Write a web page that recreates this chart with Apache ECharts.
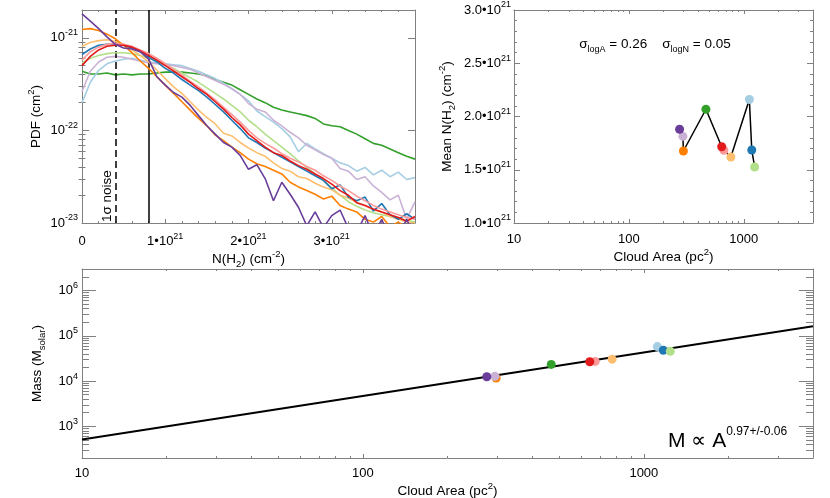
<!DOCTYPE html>
<html>
<head>
<meta charset="utf-8">
<script src="https://cdn.jsdelivr.net/npm/echarts@6/dist/echarts.min.js"></script>
<style>
  html, body { margin: 0; padding: 0; background: #fff; }
  #chart { width: 830px; height: 498px; }
</style>
</head>
<body>
<div id="chart"></div>
<script>
// N(H2) bins, units of 1e21 cm^-2
const nh2 = [0, 0.1, 0.2, 0.3, 0.4, 0.5, 0.6, 0.7, 0.8, 0.9, 1.0, 1.1, 1.2, 1.3, 1.4, 1.5, 1.6, 1.7, 1.8, 1.9, 2.0,
  2.1, 2.2, 2.3, 2.4, 2.5, 2.6, 2.7, 2.8, 2.9, 3.0, 3.1, 3.2, 3.3, 3.4, 3.5, 3.6, 3.7, 3.8, 3.9, 4.0];

// log10 of the column density PDF (cm^2), one array per cloud
const pdfLightBlue = [-21.70, -21.48, -21.35, -21.28, -21.25, -21.23, -21.22, -21.24, -21.26, -21.27, -21.28, -21.29, -21.30, -21.33, -21.36, -21.40, -21.44, -21.49, -21.55, -21.61, -21.68,
  -21.79, -21.85, -21.91, -21.98, -22.07, -22.23, -22.14, -22.20, -22.25, -22.30, -22.35, -22.38, -22.44, -22.40, -22.48, -22.43, -22.50, -22.45, -22.53, -22.51];
const pdfBlue = [-21.18, -21.12, -21.08, -21.07, -21.07, -21.08, -21.11, -21.15, -21.21, -21.26, -21.33, -21.38, -21.45, -21.51, -21.57, -21.64, -21.72, -21.80, -21.89, -21.98, -22.08,
  -22.13, -22.19, -22.24, -22.29, -22.34, -22.39, -22.44, -22.49, -22.54, -22.63, -22.59, -22.72, -22.76, -22.72, -22.87, -22.79, -22.91, -22.96, -22.90, -22.96];
const pdfLightGreen = [-21.27, -21.22, -21.19, -21.17, -21.16, -21.16, -21.17, -21.19, -21.22, -21.25, -21.29, -21.33, -21.38, -21.43, -21.48, -21.54, -21.60, -21.66, -21.73, -21.80, -21.89,
  -21.96, -22.04, -22.11, -22.18, -22.25, -22.33, -22.40, -22.47, -22.54, -22.62, -22.70, -22.77, -22.82, -22.86, -22.89, -22.91, -22.93, -22.95, -22.97, -22.99];
const pdfGreen = [-21.36, -21.39, -21.39, -21.38, -21.40, -21.39, -21.40, -21.39, -21.39, -21.38, -21.37, -21.37, -21.37, -21.38, -21.39, -21.41, -21.45, -21.48, -21.51, -21.56, -21.61,
  -21.66, -21.70, -21.75, -21.78, -21.80, -21.82, -21.84, -21.87, -21.93, -21.95, -21.96, -22.00, -22.04, -22.09, -22.14, -22.16, -22.20, -22.24, -22.28, -22.31];
const pdfPink = [-21.24, -21.15, -21.10, -21.07, -21.06, -21.07, -21.09, -21.13, -21.17, -21.22, -21.28, -21.34, -21.40, -21.47, -21.53, -21.60, -21.67, -21.75, -21.83, -21.91, -22.00,
  -22.08, -22.14, -22.19, -22.25, -22.30, -22.34, -22.39, -22.43, -22.49, -22.54, -22.60, -22.65, -22.71, -22.76, -22.81, -22.85, -22.88, -22.91, -22.94, -22.96];
const pdfRed = [-21.30, -21.20, -21.13, -21.09, -21.08, -21.08, -21.10, -21.14, -21.19, -21.24, -21.30, -21.36, -21.42, -21.48, -21.55, -21.61, -21.69, -21.77, -21.86, -21.94, -22.04,
  -22.11, -22.18, -22.24, -22.27, -22.33, -22.38, -22.42, -22.47, -22.52, -22.58, -22.65, -22.70, -22.78, -22.81, -22.85, -22.88, -22.91, -22.94, -22.98, -22.93];
const pdfLightOrange = [-21.09, -21.05, -21.03, -21.02, -21.04, -21.07, -21.13, -21.19, -21.26, -21.35, -21.44, -21.53, -21.60, -21.69, -21.78, -21.86, -21.93, -22.03, -22.06, -22.13, -22.19,
  -22.24, -22.28, -22.35, -22.41, -22.44, -22.50, -22.52, -22.57, -22.61, -22.64, -22.70, -22.73, -22.78, -22.81, -22.86, -22.88, -22.93, -22.96, -22.99, -23.00];
const pdfOrange = [-20.91, -20.90, -20.92, -20.96, -21.01, -21.08, -21.16, -21.25, -21.33, -21.42, -21.51, -21.60, -21.69, -21.78, -21.87, -21.95, -22.05, -22.11, -22.18, -22.24, -22.31,
  -22.36, -22.39, -22.43, -22.47, -22.56, -22.61, -22.65, -22.69, -22.74, -22.71, -22.81, -22.85, -22.88, -22.96, -22.99, -22.93, -23.04, -22.99, -23.05, -23.02];
const pdfLightPurple = [-21.58, -21.36, -21.26, -21.21, -21.20, -21.21, -21.23, -21.25, -21.27, -21.28, -21.29, -21.30, -21.32, -21.34, -21.38, -21.42, -21.46, -21.50, -21.55, -21.61, -21.71,
  -21.77, -21.80, -21.89, -21.95, -22.02, -22.08, -22.16, -22.21, -22.26, -22.30, -22.41, -22.44, -22.53, -22.50, -22.60, -22.67, -22.75, -22.70, -22.96, -22.77];
const pdfPurple = [-20.74, -20.82, -20.90, -20.99, -21.07, -21.11, -21.12, -21.15, -21.23, -21.42, -21.51, -21.59, -21.64, -21.73, -21.84, -21.95, -22.04, -22.13, -22.18, -22.27, -22.42,
  -22.37, -22.52, -22.76, -22.56, -22.69, -22.83, -23.03, -22.88, -23.05, -22.92, -22.86, -23.06, -23.10, -22.92, -23.14, -22.96, -23.17, -23.14, -22.96, -23.17];

// per cloud: colour, area (pc^2), mean N(H2) (1e21 cm^-2), mass (Msun)
const cloudColors = ['#a6cee3', '#1f78b4', '#b2df8a', '#33a02c', '#fb9a99', '#e31a1c', '#fdbf6f', '#ff7f00', '#cab2d6', '#6a3d9a'];
const cloudArea = [1117, 1173, 1242, 468, 671, 642, 771, 298, 295, 276];
const cloudMeanN = [2.16, 1.685, 1.526, 2.068, 1.683, 1.716, 1.62, 1.676, 1.814, 1.88];
const cloudMass = [58000, 48200, 45800, 23400, 27200, 26700, 30600, 11700, 12760, 12500];
const cloudPdf = [pdfLightBlue, pdfBlue, pdfLightGreen, pdfGreen, pdfPink, pdfRed, pdfLightOrange, pdfOrange, pdfLightPurple, pdfPurple];
const pdfDrawOrder = [3, 0, 8, 2, 6, 7, 1, 4, 5, 9];

// power law fit M ∝ A^0.97
const fitArea = [10, 4000];
const fitMass = [510, 163000];

// vertical markers, 1e21 cm^-2
const noiseLevel = 0.4;
const cutLevel = 0.8;

const FONT = 'Liberation Sans, Arial, Helvetica, sans-serif';
const GRAY = '#808080';
const log10 = Math.log10;

const rich = {
  b: { fontSize: 13, fontFamily: FONT, color: '#000', lineHeight: 19 },
  s: { fontSize: 9, fontFamily: FONT, color: '#000', lineHeight: 10, verticalAlign: 'top' },
  n: { fontSize: 13.5, fontFamily: FONT, color: '#000', lineHeight: 20 },
  ns: { fontSize: 9.5, fontFamily: FONT, color: '#000', lineHeight: 11, verticalAlign: 'top' },
  nd: { fontSize: 9.5, fontFamily: FONT, color: '#000', lineHeight: 11, verticalAlign: 'bottom' }
};

function logTicks(lo, hi) {
  const major = [], minor = [];
  for (let e = Math.floor(lo); e <= Math.ceil(hi); e++) {
    if (e >= lo - 1e-9 && e <= hi + 1e-9) major.push(e);
    for (let k = 2; k <= 9; k++) {
      const v = e + log10(k);
      if (v > lo + 1e-9 && v < hi - 1e-9) minor.push(v);
    }
  }
  return { major, minor };
}

function tickStyle(len, extra) {
  return Object.assign({ show: true, inside: true, length: len, lineStyle: { color: GRAY, width: 1 } }, extra || {});
}

// four axes for one log dimension: major+minor on the labelled side, then the mirror side
function logAxes(grid, sides, lo, hi, majorLen, minorLen, label, name) {
  const t = logTicks(lo, hi);
  const base = { gridIndex: grid, type: 'value', min: lo, max: hi, splitLine: { show: false },
    axisLine: { show: false }, axisLabel: { show: false } };
  const line = { show: true, onZero: false, lineStyle: { color: GRAY, width: 1 } };
  return [
    Object.assign({}, base, name, { position: sides[0], axisLine: line,
      axisTick: tickStyle(majorLen, { customValues: t.major }),
      axisLabel: Object.assign({ show: true, customValues: t.major, rich: rich }, label) }),
    Object.assign({}, base, { position: sides[0], axisTick: tickStyle(minorLen, { customValues: t.minor }) }),
    Object.assign({}, base, { position: sides[1], axisLine: line, axisTick: tickStyle(majorLen, { customValues: t.major }) }),
    Object.assign({}, base, { position: sides[1], axisTick: tickStyle(minorLen, { customValues: t.minor }) })
  ];
}

function linAxes(grid, sides, min, max, interval, split, majorLen, minorLen, label, name) {
  const base = { gridIndex: grid, type: 'value', min: min, max: max, interval: interval,
    splitLine: { show: false }, minorSplitLine: { show: false },
    axisLine: { show: true, onZero: false, lineStyle: { color: GRAY, width: 1 } },
    axisTick: tickStyle(majorLen),
    minorTick: { show: true, splitNumber: split, length: minorLen, lineStyle: { color: GRAY, width: 1 } } };
  return [
    Object.assign({}, base, name, { position: sides[0], axisLabel: Object.assign({ show: true, rich: rich }, label) }),
    Object.assign({}, base, { position: sides[1], axisLabel: { show: false } })
  ];
}

function nameOpt(text, gap) {
  return { name: text, nameLocation: 'middle', nameGap: gap, nameTextStyle: { rich: rich, fontFamily: FONT, fontSize: 13.5, color: '#000' } };
}

const pow10Label = v => '{b|10}{s|' + Math.round(v) + '}';
const areaLabel = v => '{b|' + Math.round(Math.pow(10, v)) + '}';
const areaMax = log10(4000);

const xAxes = [].concat(
  // top-left N(H2)
  linAxes(0, ['bottom', 'top'], 0, 4, 1, 5, 4, 2,
    { customValues: [0, 1, 2, 3], margin: 9, formatter: v => v === 0 ? '{b|0}' : '{b|' + v + '•10}{s|21}' },
    nameOpt('{n|N(H}{nd|2}{n|) (cm}{ns|-2}{n|)}', 22)),
  // top-right cloud area
  logAxes(1, ['bottom', 'top'], 1, areaMax, 4, 2, { margin: 7, formatter: areaLabel },
    nameOpt('{n|Cloud Area (pc}{ns|2}{n|)}', 21)),
  // bottom cloud area
  logAxes(2, ['bottom', 'top'], 1, areaMax, 4, 2, { margin: 6, formatter: areaLabel },
    nameOpt('{n|Cloud Area (pc}{ns|2}{n|)}', 21))
);

const yAxes = [].concat(
  logAxes(0, ['left', 'right'], -23, log10(2e-21), 7, 3.5, { margin: 4, formatter: pow10Label },
    nameOpt('{n|PDF (cm}{ns|2}{n|)}', 36)),
  linAxes(1, ['left', 'right'], 1, 3, 0.5, 5, 6, 3,
    { margin: 3, formatter: v => '{b|' + v.toFixed(1) + '•10}{s|21}' },
    nameOpt('{n|Mean N(H}{nd|2}{n|) (cm}{ns|-2}{n|)}', 57)),
  logAxes(2, ['left', 'right'], log10(200), log10(3e6), 14, 7, { margin: 4, formatter: pow10Label },
    nameOpt('{n|Mass (M}{nd|solar}{n|)}', 28))
);

const series = [];

// column density PDFs
pdfDrawOrder.forEach((c, k) => {
  const s = {
    type: 'line', xAxisIndex: 0, yAxisIndex: 0, showSymbol: false, silent: true,
    data: nh2.map((x, i) => [x, cloudPdf[c][i]]),
    lineStyle: { color: cloudColors[c], width: 1.6 }, itemStyle: { color: cloudColors[c] }, z: 2 + k
  };
  if (k === 0) {
    s.markLine = {
      silent: true, symbol: 'none', animation: false,
      lineStyle: { color: '#000', width: 1.5, type: 'solid' },
      data: [
        { xAxis: noiseLevel, lineStyle: { type: [7, 4], color: '#000', width: 1.5 },
          label: { show: true, formatter: '1σ noise', position: 'insideStartTop', distance: 1,
            fontFamily: FONT, fontSize: 13.5, color: '#000' } },
        { xAxis: cutLevel, label: { show: false } }
      ]
    };
  }
  series.push(s);
});

// mean N(H2) vs area, joined in order of area
const byArea = cloudArea.map((a, i) => i).sort((a, b) => cloudArea[a] - cloudArea[b]);
series.push({
  type: 'line', xAxisIndex: 2, yAxisIndex: 4, showSymbol: false, silent: true,
  data: byArea.map(i => [log10(cloudArea[i]), cloudMeanN[i]]),
  lineStyle: { color: '#000', width: 1.5 }, z: 2
});
series.push({
  type: 'scatter', xAxisIndex: 2, yAxisIndex: 4, symbolSize: 9, silent: true, z: 3,
  data: cloudArea.map((a, i) => ({ value: [log10(a), cloudMeanN[i]], itemStyle: { color: cloudColors[i], opacity: 1 } }))
});

// mass vs area
series.push({
  type: 'line', xAxisIndex: 6, yAxisIndex: 6, showSymbol: false, silent: true,
  data: fitArea.map((a, i) => [log10(a), log10(fitMass[i])]),
  lineStyle: { color: '#000', width: 2 }, z: 2
});
series.push({
  type: 'scatter', xAxisIndex: 6, yAxisIndex: 6, symbolSize: 9, silent: true, z: 3,
  data: cloudArea.map((a, i) => ({ value: [log10(a), log10(cloudMass[i])], itemStyle: { color: cloudColors[i], opacity: 1 } }))
});

const option = {
  backgroundColor: '#fff',
  animation: false,
  textStyle: { fontFamily: FONT },
  grid: [
    { left: 82, top: 10, width: 333, height: 213, outerBoundsMode: 'none', containLabel: false },
    { left: 514, top: 10, width: 299, height: 213, outerBoundsMode: 'none', containLabel: false },
    { left: 82, top: 269, width: 731, height: 189, outerBoundsMode: 'none', containLabel: false }
  ],
  xAxis: xAxes,
  yAxis: yAxes,
  series: series,
  graphic: [
    {
      type: 'text', x: 655, y: 44, silent: true,
      style: {
        text: '{t|σ}{d|logA}{t| = 0.26    σ}{d|logN}{t| = 0.05}',
        align: 'center', verticalAlign: 'middle',
        rich: {
          t: { fontSize: 13.5, fontFamily: FONT, color: '#000', lineHeight: 20 },
          d: { fontSize: 9, fontFamily: FONT, color: '#000', lineHeight: 11, verticalAlign: 'bottom' }
        }
      }
    },
    {
      type: 'text', x: 668, y: 441, silent: true,
      style: {
        text: '{m|M ∝ A}{e|0.97+/-0.06}',
        align: 'left', verticalAlign: 'middle',
        rich: {
          m: { fontSize: 21, fontFamily: FONT, color: '#000', lineHeight: 30 },
          e: { fontSize: 12, fontFamily: FONT, color: '#000', lineHeight: 14, verticalAlign: 'top' }
        }
      }
    }
  ]
};

const chart = echarts.init(document.getElementById('chart'), null, { renderer: 'canvas' });
chart.setOption(option);
</script>
</body>
</html>
